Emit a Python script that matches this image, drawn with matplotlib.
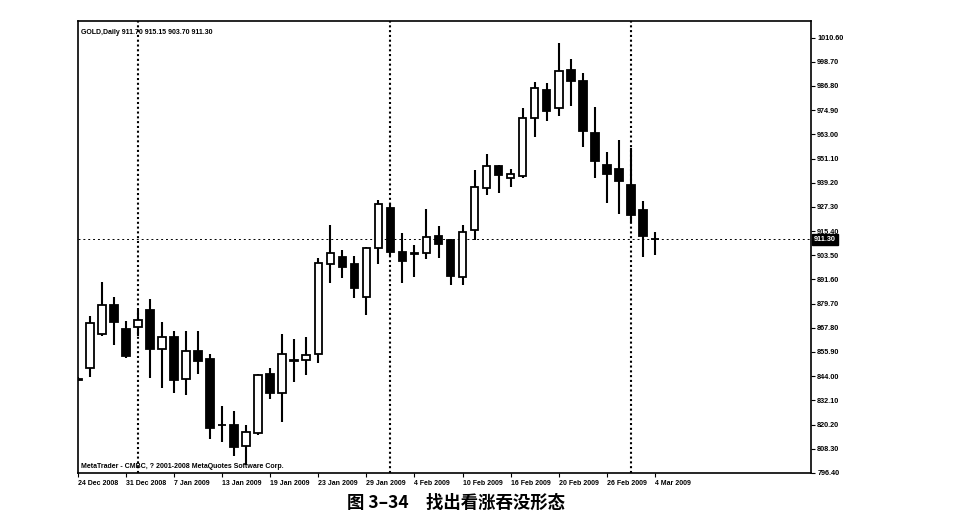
import datetime as dt
import matplotlib
matplotlib.use("Agg")
from matplotlib import pyplot as plt
from matplotlib import transforms

# bar dates (daily GOLD), 24 Dec 2008 .. 4 Mar 2009
dates = ["2008-12-24", "2008-12-26", "2008-12-29", "2008-12-30", "2008-12-31",
         "2009-01-02", "2009-01-05", "2009-01-06", "2009-01-07", "2009-01-08",
         "2009-01-09", "2009-01-12", "2009-01-13", "2009-01-14", "2009-01-15",
         "2009-01-16", "2009-01-19", "2009-01-20", "2009-01-21", "2009-01-22",
         "2009-01-23", "2009-01-26", "2009-01-27", "2009-01-28", "2009-01-29",
         "2009-01-30", "2009-02-02", "2009-02-03", "2009-02-04", "2009-02-05",
         "2009-02-06", "2009-02-09", "2009-02-10", "2009-02-11", "2009-02-12",
         "2009-02-13", "2009-02-16", "2009-02-17", "2009-02-18", "2009-02-19",
         "2009-02-20", "2009-02-23", "2009-02-24", "2009-02-25", "2009-02-26",
         "2009-02-27", "2009-03-02", "2009-03-03", "2009-03-04"]

opens = [842.5, 847.8, 864.7, 879.0, 867.2, 868.0, 876.5, 857.3, 863.1, 842.4,
         856.3, 852.2, 820.2, 819.9, 809.6, 816.1, 845.3, 835.5, 851.7, 851.9,
         854.9, 899.2, 902.8, 899.2, 883.1, 906.9, 926.9, 905.2, 904.2, 904.4,
         913.1, 911.0, 892.9, 915.9, 936.4, 947.4, 941.7, 942.6, 971.2, 984.8,
         976.1, 994.7, 989.4, 963.8, 947.9, 945.8, 938.1, 925.8, 911.70]
highs = [843.5, 873.7, 890.5, 882.8, 871.3, 876.5, 881.8, 870.8, 866.3, 866.3,
         866.3, 854.9, 829.3, 826.9, 819.9, 845.0, 847.8, 864.6, 862.1, 863.4,
         902.0, 918.4, 906.1, 903.1, 907.5, 930.7, 929.1, 914.6, 908.5, 926.1,
         917.9, 911.5, 918.4, 945.5, 953.3, 947.9, 945.8, 975.8, 988.9, 988.1,
         1008.1, 1000.0, 993.4, 976.3, 954.5, 960.2, 956.1, 930.2, 915.15]
lows = [841.5, 843.7, 863.7, 859.3, 852.7, 864.0, 842.9, 838.0, 835.5, 834.7,
        845.0, 813.3, 811.7, 804.6, 800.2, 815.0, 832.7, 821.5, 840.9, 844.4,
        850.3, 890.0, 892.1, 882.3, 874.1, 899.2, 903.0, 889.7, 892.9, 901.5,
        902.0, 888.8, 888.8, 911.0, 933.1, 934.0, 937.2, 941.4, 961.9, 969.7,
        972.0, 977.0, 956.6, 941.4, 929.4, 923.6, 919.2, 902.8, 903.70]
closes = [842.0, 870.0, 879.0, 870.5, 853.9, 871.6, 857.2, 863.1, 842.1, 856.3,
          851.6, 818.3, 819.9, 809.2, 816.3, 844.5, 835.5, 854.9, 851.9, 854.4,
          899.8, 904.4, 897.5, 887.2, 906.9, 928.7, 905.2, 900.8, 904.4, 912.6,
          908.9, 893.3, 914.8, 937.2, 947.4, 943.0, 943.3, 970.9, 985.7, 974.7,
          994.4, 989.4, 964.7, 950.0, 943.3, 940.2, 923.3, 913.0, 911.30]

price_ticks = [796.40, 808.30, 820.20, 832.10, 844.00, 855.90, 867.80, 879.70,
               891.60, 903.50, 915.40, 927.30, 939.20, 951.10, 963.00, 974.90,
               986.80, 998.70, 1010.60]

title = "GOLD,Daily 911.70 915.15 903.70 911.30"
footer = "MetaTrader - CMBC, ? 2001-2008 MetaQuotes Software Corp."
caption = "图 3–34　找出看涨吞没形态"

plt.rcParams['font.family'] = ['Liberation Sans', 'DejaVu Sans']

days = [dt.datetime.strptime(d, "%Y-%m-%d") for d in dates]
xs = list(range(len(days)))

fig = plt.figure(figsize=(9.54, 5.24), dpi=100)
ax = fig.add_axes([0.0818, 0.0964, 0.7683, 0.8636])

# wicks
ax.vlines(xs, lows, highs, color='black', linewidth=1.5, zorder=2)
# bodies
bottoms = [min(o, c) for o, c in zip(opens, closes)]
heights = [abs(c - o) for o, c in zip(opens, closes)]
fills = ['white' if c > o else 'black' for o, c in zip(opens, closes)]
ax.bar(xs, heights, bottom=bottoms, width=0.64, color=fills,
       edgecolor='black', linewidth=1.3, zorder=3)

# month separators
for i in range(1, len(days)):
    if days[i].month != days[i - 1].month:
        ax.axvline(i, color='black', linewidth=1.5, linestyle=(0, (1, 1.3)), zorder=1)

# bid line
last = closes[-1]
ax.axhline(last, color='black', linewidth=0.7, linestyle=(0, (2, 3)), zorder=1)

ax.set_xlim(0, 61.0)
ax.set_ylim(796.1, 1018.8)

ax.yaxis.tick_right()
ax.set_yticks(price_ticks)
ax.set_yticklabels(["%.2f" % v for v in price_ticks])
ax.tick_params(axis='y', direction='out', length=3, width=0.8, pad=1.5,
               labelsize=5.2, left=False)
for lbl in ax.get_yticklabels():
    lbl.set_fontweight('bold')

xt = xs[::4]
ax.set_xticks(xt)
ax.set_xticklabels(["%d %s %d" % (days[i].day, days[i].strftime("%b"), days[i].year) for i in xt],
                   ha='left', fontsize=5, fontweight='bold')
ax.tick_params(axis='x', direction='out', length=3, width=0.8, pad=1.5)

for s in ax.spines.values():
    s.set_linewidth(1.2)

ax.text(0.004, 0.983, title, transform=ax.transAxes, fontsize=5,
        fontweight='bold', va='top', ha='left')
ax.text(0.004, 0.008, footer, transform=ax.transAxes, fontsize=5,
        fontweight='bold', va='bottom', ha='left')

trans = transforms.blended_transform_factory(ax.transAxes, ax.transData)
ax.text(1.004, last, "%.2f" % last, transform=trans, fontsize=5.2, fontweight='bold',
        color='white', va='center', ha='left',
        bbox=dict(boxstyle='square,pad=0.3', facecolor='black', edgecolor='black'))

fig.text(0.478, 0.040, caption, ha='center', va='center', fontsize=12.5,
         fontweight='bold', family=['Noto Sans CJK SC', 'DejaVu Sans'])

fig.savefig("out.png", dpi=100)
